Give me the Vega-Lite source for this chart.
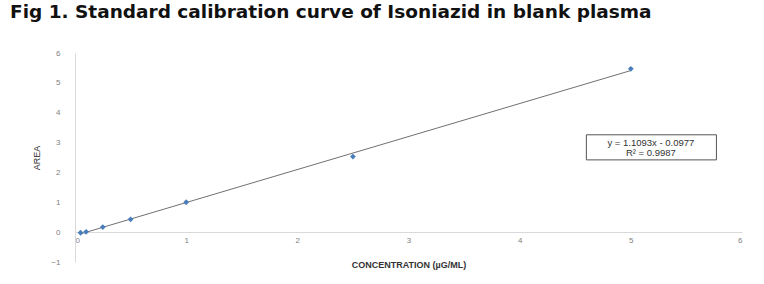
{
  "$schema": "https://vega.github.io/schema/vega-lite/v6.json",
  "width": 667,
  "height": 209,
  "autosize": {"type": "none"},
  "padding": {"left": 75, "top": 53, "right": 22, "bottom": 22},
  "background": "white",
  "title": {
    "text": "Fig 1.  Standard calibration curve of Isoniazid in blank plasma",
    "anchor": "start",
    "frame": "group",
    "font": "DejaVu Sans",
    "fontWeight": "bold",
    "fontSize": 18.5,
    "color": "#111111",
    "dx": -65,
    "offset": 28
  },
  "config": {
    "view": {"stroke": null},
    "axis": {"grid": false, "ticks": false, "domainColor": "#d9d9d9", "labelColor": "#7f7f7f", "labelFont": "Liberation Sans", "labelFontSize": 8},
    "axisY": {"labelOverlap": false},
    "axisX": {"labelOverlap": false}
  },
  "datasets": {
    "pts": [
      {"conc": 0.05, "area": -0.02},
      {"conc": 0.1, "area": 0.01},
      {"conc": 0.25, "area": 0.17},
      {"conc": 0.5, "area": 0.43},
      {"conc": 1, "area": 1.0},
      {"conc": 2.5, "area": 2.53},
      {"conc": 5, "area": 5.47}
    ],
    "note": [
      {"x1": 4.6, "x2": 5.77, "y1": 2.42, "y2": 3.26, "xm": 5.18, "line1": 3.0, "line2": 2.66, "t1": "y = 1.1093x - 0.0977", "t2": "R² = 0.9987"}
    ]
  },
  "layer": [
    {
      "data": {"name": "pts"},
      "transform": [{"regression": "area", "on": "conc"}],
      "mark": {"type": "line", "color": "#707070", "strokeWidth": 1},
      "encoding": {
        "x": {"field": "conc", "type": "quantitative", "scale": {"domain": [0, 6], "nice": false},
          "axis": {"tickCount": 6, "format": "d", "offset": -30, "labelPadding": 4, "title": "CONCENTRATION (µG/ML)", "titleFont": "Liberation Sans", "titleFontSize": 9, "titleFontWeight": "bold", "titleColor": "#333333", "titlePadding": 16}},
        "y": {"field": "area", "type": "quantitative", "scale": {"domain": [-1, 6], "nice": false},
          "axis": {"tickCount": 7, "format": "d", "labelSeparation": 0, "labelPadding": 15, "title": "AREA", "titleFont": "Liberation Sans", "titleFontSize": 9, "titleFontWeight": "normal", "titleColor": "#333333", "titlePadding": 9}}
      }
    },
    {
      "data": {"name": "pts"},
      "mark": {"type": "point", "shape": "diamond", "filled": true, "color": "#4a7ebb", "size": 34, "opacity": 1},
      "encoding": {
        "x": {"field": "conc", "type": "quantitative"},
        "y": {"field": "area", "type": "quantitative"}
      }
    },
    {
      "data": {"name": "note"},
      "mark": {"type": "rect", "fill": "white", "stroke": "#555555", "strokeWidth": 1},
      "encoding": {
        "x": {"field": "x1", "type": "quantitative"},
        "x2": {"field": "x2"},
        "y": {"field": "y1", "type": "quantitative"},
        "y2": {"field": "y2"}
      }
    },
    {
      "data": {"name": "note"},
      "mark": {"type": "text", "font": "Liberation Sans", "fontSize": 9.5, "color": "#333333", "align": "center", "baseline": "middle"},
      "encoding": {
        "x": {"field": "xm", "type": "quantitative"},
        "y": {"field": "line1", "type": "quantitative"},
        "text": {"field": "t1"}
      }
    },
    {
      "data": {"name": "note"},
      "mark": {"type": "text", "font": "Liberation Sans", "fontSize": 9.5, "color": "#333333", "align": "center", "baseline": "middle"},
      "encoding": {
        "x": {"field": "xm", "type": "quantitative"},
        "y": {"field": "line2", "type": "quantitative"},
        "text": {"field": "t2"}
      }
    }
  ]
}
